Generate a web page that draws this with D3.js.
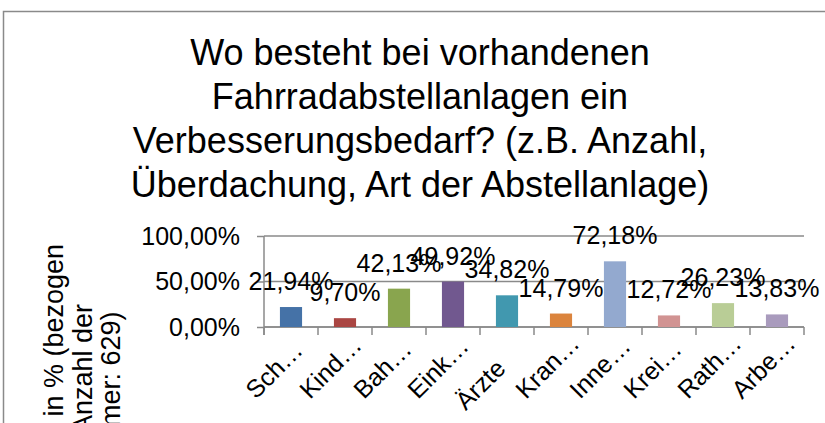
<!DOCTYPE html>
<html lang="de">
<head>
<meta charset="utf-8">
<script src="https://cdn.jsdelivr.net/npm/d3@7"></script>
<style>
  html, body { margin: 0; padding: 0; background: #fff; }
  svg { display: block; font-family: "Liberation Sans", Arial, sans-serif; }
</style>
</head>
<body>
<svg id="chart" width="825" height="423"></svg>
<script>
// Kategorien (Achsenbeschriftungen, wie angezeigt gekürzt)
const categories = ["Sch…", "Kind…", "Bah…", "Eink…", "Ärzte", "Kran…", "Inne…", "Krei…", "Rath…", "Arbe…"];
// Anteil der Nennungen je Kategorie
const values = [0.2194, 0.0970, 0.4213, 0.4992, 0.3482, 0.1479, 0.7218, 0.1272, 0.2623, 0.1383];
// Balkenfarben je Kategorie
const colors = ["#4572A7", "#AA4643", "#89A54E", "#71588F", "#4198AF", "#DB843D", "#93A9CF", "#D19392", "#B9CD96", "#A99BBD"];
// Werte der Y-Achsenteilung
const yTicks = [0, 0.5, 1];
const titleLines = [
  "Wo besteht bei vorhandenen",
  "Fahrradabstellanlagen ein",
  "Verbesserungsbedarf? (z.B. Anzahl,",
  "Überdachung, Art der Abstellanlage)"
];
const yTitleLines = [
  "Antwortanteil in % (bezogen",
  "auf die Anzahl der",
  "Teilnehmer: 629)"
];

const de = d3.formatLocale({ decimal: ",", thousands: ".", grouping: [3], currency: ["", " €"] });
const pct = de.format(".2%");

const svg = d3.select("#chart");
const axisColor = "#8a8a8a";

// Diagrammrahmen
svg.append("rect")
  .attr("x", 3.5).attr("y", 11.5)
  .attr("width", 900).attr("height", 600)
  .attr("fill", "none").attr("stroke", axisColor).attr("stroke-width", 1.5);

// Titel
svg.append("text")
  .attr("x", 420).attr("y", 65)
  .attr("text-anchor", "middle")
  .attr("font-size", 36).attr("fill", "#000")
  .selectAll("tspan").data(titleLines).join("tspan")
  .attr("x", 420).attr("dy", (d, i) => i === 0 ? 0 : 44)
  .text(d => d);

const plot = { left: 264, right: 804, top: 236, bottom: 327 };

const x = d3.scaleBand()
  .domain(categories)
  .range([plot.left, plot.right])
  .paddingInner(0.59)
  .paddingOuter(0.295);

const y = d3.scaleLinear().domain([0, 1]).range([plot.bottom, plot.top]);

// Gitternetzlinien
svg.append("g")
  .selectAll("line").data(yTicks).join("line")
  .attr("x1", plot.left).attr("x2", plot.right)
  .attr("y1", d => y(d)).attr("y2", d => y(d))
  .attr("stroke", axisColor).attr("stroke-width", 1.5);

// Y-Achse
const yAxis = d3.axisLeft(y).tickValues(yTicks).tickFormat(pct).tickSize(7).tickPadding(17);
const gy = svg.append("g").attr("transform", `translate(${plot.left},0)`).call(yAxis);
gy.select(".domain").remove();
gy.selectAll(".tick line").attr("stroke", axisColor).attr("stroke-width", 1.5);
gy.selectAll(".tick text").attr("font-size", 25).attr("fill", "#000")
  .attr("font-family", "\"Liberation Sans\", Arial, sans-serif");
svg.append("line")
  .attr("x1", plot.left).attr("x2", plot.left)
  .attr("y1", plot.top).attr("y2", plot.bottom + 8)
  .attr("stroke", axisColor).attr("stroke-width", 1.5);

// X-Achse mit Teilstrichen an den Kategoriegrenzen
svg.append("line")
  .attr("x1", plot.left).attr("x2", plot.right)
  .attr("y1", plot.bottom).attr("y2", plot.bottom)
  .attr("stroke", axisColor).attr("stroke-width", 1.5);
const boundaries = categories.map(c => x(c) - x.step() * x.paddingOuter()).concat([plot.right]);
svg.append("g")
  .selectAll("line").data(boundaries).join("line")
  .attr("x1", d => d).attr("x2", d => d)
  .attr("y1", plot.bottom).attr("y2", plot.bottom + 8)
  .attr("stroke", axisColor).attr("stroke-width", 1.5);

// Balken
svg.append("g")
  .selectAll("rect").data(values).join("rect")
  .attr("x", (d, i) => x(categories[i]))
  .attr("width", x.bandwidth())
  .attr("y", d => y(d))
  .attr("height", d => y(0) - y(d))
  .attr("fill", (d, i) => colors[i]);

// Datenbeschriftungen
svg.append("g")
  .selectAll("text").data(values).join("text")
  .attr("x", (d, i) => x(categories[i]) + x.bandwidth() / 2)
  .attr("y", d => y(d) - 17)
  .attr("text-anchor", "middle")
  .attr("font-size", 25).attr("fill", "#000")
  .text(d => pct(d));

// Kategoriebeschriftungen, um 45° gedreht:
// gekürzte Texte stehen linksbündig im Beschriftungsfeld, vollständige rechtsbündig am Teilstrich
const truncated = c => c.endsWith("…");
svg.append("g")
  .selectAll("text").data(categories).join("text")
  .attr("transform", c => {
    const cx = x(c) + x.bandwidth() / 2;
    return truncated(c)
      ? `translate(${cx - 35},${plot.bottom + 73}) rotate(-45)`
      : `translate(${cx},${plot.bottom + 43}) rotate(-45)`;
  })
  .attr("text-anchor", c => truncated(c) ? "start" : "end")
  .attr("font-size", 25).attr("fill", "#000")
  .text(c => c);

// Y-Achsentitel
svg.append("text")
  .attr("transform", "translate(0,412) rotate(-90)")
  .attr("text-anchor", "middle")
  .attr("font-size", 27).attr("fill", "#000")
  .selectAll("tspan").data(yTitleLines).join("tspan")
  .attr("x", 0).attr("y", (d, i) => 63 + i * 28.5)
  .text(d => d);
</script>
</body>
</html>
